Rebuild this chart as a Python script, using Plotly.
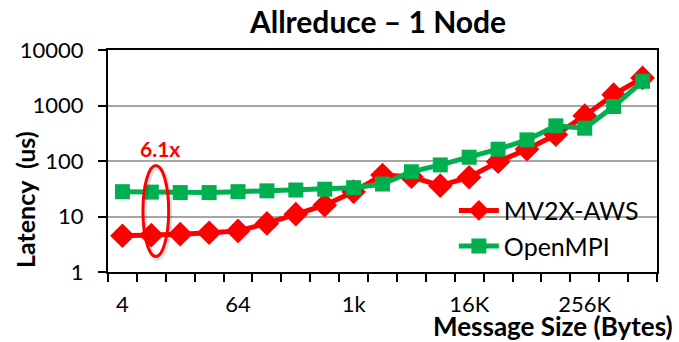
import plotly.graph_objects as go

# Message sizes 4 B .. 1 MB (one category per power of two)
sizes = ["4", "8", "16", "32", "64", "128", "256", "512", "1k", "2K", "4K", "8K",
         "16K", "32K", "64K", "128K", "256K", "512K", "1M"]
tick_labels = ["4", "64", "1k", "16K", "256K"]
tick_index = [0, 4, 8, 12, 16]

mv2x_aws = [4.5, 4.6, 4.8, 5.1, 5.5, 7.5, 11, 16, 28, 56, 52, 36, 51, 97, 163,
            297, 655, 1570, 3140]
openmpi = [28, 27.5, 27, 27, 28, 29, 30, 31, 33, 38.5, 64, 85, 117, 163, 240,
           430, 390, 960, 2730]

idx = list(range(len(sizes)))
FONT = "Lato"
RED = "#FF0000"
GREEN = "#00B050"

fig = go.Figure()
fig.add_trace(go.Scatter(
    x=idx, y=mv2x_aws, name="MV2X-AWS", mode="lines+markers",
    line=dict(color=RED, width=5),
    marker=dict(symbol="diamond", size=19, color=RED),
    customdata=sizes,
))
fig.add_trace(go.Scatter(
    x=idx, y=openmpi, name="OpenMPI", mode="lines+markers",
    line=dict(color=GREEN, width=5),
    marker=dict(symbol="square", size=15, color=GREEN),
    customdata=sizes,
))

# ellipse around the 8-byte point, with a soft shadow
fig.add_shape(type="circle", xref="x", yref="paper",
              x0=0.78, x1=1.66, y0=0.06, y1=0.47,
              line=dict(color="rgba(0,0,0,0.12)", width=4))
fig.add_shape(type="circle", xref="x", yref="paper",
              x0=0.71, x1=1.6, y0=0.07, y1=0.48,
              line=dict(color=RED, width=3))

fig.add_annotation(x=1.3, xref="x", y=(272 - 148) / 222, yref="paper",
                   yanchor="middle", text="<b>6.1x</b>", showarrow=False,
                   font=dict(family=FONT, size=21, color=RED))

fig.add_annotation(x=(25 - 108) / 549, xref="paper", xanchor="center",
                   y=(272 - 200) / 222, yref="paper", yanchor="middle",
                   text="<b>Latency  (us)</b>", textangle=-90,
                   showarrow=False, font=dict(family=FONT, size=25, color="black"))
fig.add_annotation(x=1.033, xref="paper", xanchor="right",
                   y=-(326 - 272) / 222, yref="paper", yanchor="middle",
                   text="<b>Message Size (Bytes)</b>", showarrow=False,
                   font=dict(family=FONT, size=26, color="black"))

fig.update_layout(
    width=679, height=342,
    margin=dict(l=108, r=22, t=50, b=70),
    paper_bgcolor="white", plot_bgcolor="white",
    title=dict(text="<b>Allreduce – 1 Node</b>", x=378 / 679, xanchor="center",
               y=1 - 22 / 342, yanchor="middle",
               font=dict(family=FONT, size=30, color="black")),
    font=dict(family=FONT, color="black"),
    legend=dict(x=0.63, y=0.38, xanchor="left", yanchor="top",
                bgcolor="rgba(0,0,0,0)", font=dict(family=FONT, size=25),
                tracegroupgap=0, itemwidth=40),
    showlegend=True,
)

fig.update_xaxes(
    range=[-0.5, 18.5], tickmode="array", tickvals=tick_index, ticktext=tick_labels,
    ticks="", ticklabelstandoff=12, tickfont=dict(family=FONT, size=22),
    showline=True, linecolor="black", linewidth=2, mirror=True,
    showgrid=False, zeroline=False,
    minor=dict(tick0=0.5, dtick=1, ticks="outside", ticklen=8, tickwidth=1.5,
               tickcolor="black", showgrid=False),
)
fig.update_yaxes(
    type="log", range=[0, 4], tickmode="array",
    tickvals=[1, 10, 100, 1000, 10000], ticktext=["1", "10", "100", "1000", "10000"],
    ticks="outside", ticklen=8, tickwidth=1.5, tickcolor="black",
    ticklabelstandoff=10, tickfont=dict(family=FONT, size=22),
    showline=True, linecolor="black", linewidth=2, mirror=True,
    showgrid=True, gridcolor="#A6A6A6", gridwidth=2, zeroline=False,
)

fig.write_html("out.html")
